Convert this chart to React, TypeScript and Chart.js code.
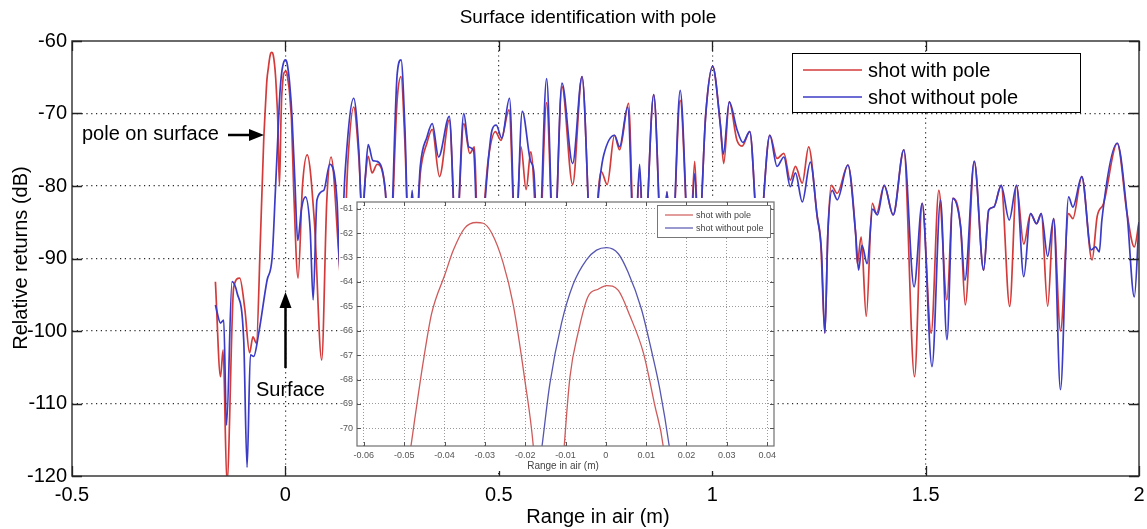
import React, { useEffect, useRef } from 'react';
import { Chart, registerables } from 'chart.js';

Chart.register(...registerables);

// ---------- data ----------
const X_TICKS = [-0.5, 0, 0.5, 1, 1.5, 2];
const Y_TICKS = [-120, -110, -100, -90, -80, -70, -60];
const INSET_X_TICKS = [-0.06, -0.05, -0.04, -0.03, -0.02, -0.01, 0, 0.01, 0.02, 0.03, 0.04];
const INSET_Y_TICKS = [-70, -69, -68, -67, -66, -65, -64, -63, -62, -61];
const SERIES_NAMES = ['shot with pole', 'shot without pole'];

// shot with pole: [range (m), relative return (dB)]
const shotWithPole: [number, number][] = [
  [-0.164, -93.2], [-0.152, -106.3], [-0.146, -102.6], [-0.137, -121], [-0.121, -93.9], [-0.107, -92.7],
  [-0.095, -97], [-0.084, -103], [-0.076, -100.8], [-0.068, -101.7], [-0.0586, -87.4], [-0.0508, -73.7],
  [-0.0483, -70.7], [-0.0453, -67.3], [-0.0432, -65.3], [-0.0399, -63.7], [-0.0378, -62.7], [-0.035, -61.8],
  [-0.0321, -61.57], [-0.0304, -61.6], [-0.0283, -62.0], [-0.0255, -63.2], [-0.023, -64.9], [-0.0201, -68],
  [-0.018, -70.7], [-0.014, -80], [-0.0103, -70.7], [-0.0089, -67.9], [-0.0069, -66.1], [-0.0044, -64.6],
  [-0.0019, -64.3], [0.0002, -64.15], [0.0031, -64.35], [0.006, -65.4], [0.0093, -66.9], [0.0122, -69.1],
  [0.0142, -70.7], [0.0195, -80.6], [0.0297, -92.7], [0.040, -80], [0.051, -75.7], [0.068, -85],
  [0.085, -104], [0.097, -82], [0.107, -76], [0.125, -89.3], [0.132, -95], [0.147, -76], [0.160, -69.1],
  [0.172, -76], [0.180, -84], [0.187, -79], [0.194, -75.9], [0.203, -78.2], [0.215, -77], [0.234, -80.6],
  [0.244, -90], [0.262, -68], [0.271, -64.9], [0.280, -74], [0.289, -88], [0.297, -82], [0.305, -88],
  [0.316, -78.3], [0.332, -74], [0.344, -72.2], [0.361, -78.7], [0.384, -70.9], [0.400, -88], [0.418, -71.4],
  [0.432, -75.5], [0.443, -74.6], [0.452, -90], [0.476, -76], [0.492, -72.5], [0.505, -73.7], [0.524, -69.5],
  [0.539, -88], [0.552, -74.6], [0.564, -80.5], [0.575, -75.3], [0.594, -90], [0.612, -68.5], [0.629, -90],
  [0.648, -66.3], [0.673, -79.8], [0.695, -64.9], [0.718, -90], [0.740, -78], [0.754, -79.8], [0.771, -73],
  [0.783, -75], [0.804, -68.6], [0.818, -90], [0.830, -78], [0.840, -90], [0.863, -67.4], [0.883, -90],
  [0.894, -80.8], [0.905, -90], [0.925, -68.2], [0.947, -90], [0.959, -76.6], [0.968, -88], [0.985, -70],
  [1.001, -63.5], [1.019, -71.5], [1.027, -76.9], [1.040, -68.4], [1.058, -73.7], [1.070, -74.5],
  [1.088, -72.5], [1.109, -88], [1.135, -73], [1.152, -76.2], [1.168, -75.5], [1.183, -79.2], [1.195, -77.3],
  [1.211, -79.6], [1.226, -74.6], [1.246, -84.2], [1.254, -87.5], [1.264, -100.3], [1.271, -86.5],
  [1.279, -79.9], [1.293, -81.0], [1.318, -77.1], [1.336, -86.5], [1.340, -90.7], [1.349, -87.0],
  [1.361, -98], [1.375, -82.4], [1.385, -83.8], [1.403, -79.9], [1.424, -84], [1.449, -75], [1.474, -106.3],
  [1.492, -82.4], [1.513, -100.3], [1.531, -80.6], [1.550, -95.7], [1.564, -81.7], [1.582, -85.6],
  [1.593, -96.4], [1.614, -76.6], [1.636, -91.6], [1.648, -83.3], [1.660, -82.9], [1.677, -79.9],
  [1.697, -96.6], [1.713, -79.9], [1.730, -88], [1.746, -83.8], [1.760, -85.2], [1.771, -83.8],
  [1.786, -96.6], [1.800, -84.5], [1.816, -100], [1.835, -83.8], [1.845, -84.5], [1.866, -78.7],
  [1.890, -90.2], [1.902, -84.2], [1.917, -82.4], [1.949, -74.1], [1.972, -83.8], [1.989, -88.4], [2.0, -85],
];

// shot without pole: [range (m), relative return (dB)]
const shotWithoutPole: [number, number][] = [
  [-0.164, -96.4], [-0.152, -98.9], [-0.1445, -98.5], [-0.138, -113], [-0.125, -93.2], [-0.113, -94.8],
  [-0.0977, -101.2], [-0.0898, -118.8], [-0.082, -103.3], [-0.0742, -103.5], [-0.0625, -100.3], [-0.043, -93],
  [-0.031, -89.8], [-0.0234, -80.6], [-0.0158, -70.7], [-0.0139, -68.2], [-0.011, -65.7], [-0.0081, -64.1],
  [-0.0048, -63.1], [-0.0023, -62.7], [0.0002, -62.6], [0.0031, -62.85], [0.0055, -63.6], [0.0088, -65.1],
  [0.0113, -66.8], [0.0134, -68.4], [0.0157, -70.7], [0.022, -79], [0.0289, -87.5], [0.038, -83],
  [0.047, -81.5], [0.058, -86], [0.065, -95.7], [0.074, -81.9], [0.090, -80.6], [0.104, -77], [0.121, -82.1],
  [0.128, -92], [0.140, -78], [0.160, -67.9], [0.172, -75], [0.180, -85], [0.187, -79], [0.194, -74.3],
  [0.205, -76.5], [0.215, -76.6], [0.234, -80.6], [0.244, -90], [0.262, -64.5], [0.271, -62.6], [0.280, -72],
  [0.289, -88], [0.297, -80.6], [0.305, -88], [0.316, -77.3], [0.332, -73.2], [0.344, -71.4], [0.359, -76],
  [0.384, -70.4], [0.400, -88], [0.418, -70], [0.4295, -74.6], [0.441, -75.1], [0.452, -90], [0.484, -72.3],
  [0.494, -71.6], [0.507, -73.4], [0.525, -67.9], [0.539, -88], [0.555, -69.7], [0.574, -76.5], [0.582, -78],
  [0.593, -90], [0.612, -65.2], [0.629, -90], [0.648, -65.8], [0.673, -76.9], [0.695, -64.9], [0.718, -90],
  [0.738, -78.5], [0.746, -75.7], [0.771, -73], [0.783, -74.6], [0.802, -69.1], [0.818, -90], [0.830, -77],
  [0.840, -90], [0.863, -67.4], [0.883, -90], [0.894, -80.8], [0.905, -90], [0.925, -66.8], [0.947, -90],
  [0.959, -78.3], [0.968, -88], [0.985, -70], [1.001, -63.5], [1.019, -71.5], [1.026, -75.6], [1.040, -68.4],
  [1.058, -72.2], [1.072, -74], [1.088, -72.5], [1.109, -88], [1.135, -73], [1.152, -77.3], [1.168, -76],
  [1.183, -80.1], [1.195, -78.2], [1.211, -82.2], [1.230, -76.7], [1.246, -84.2], [1.256, -89],
  [1.264, -100.3], [1.271, -86.5], [1.281, -80.6], [1.293, -81.9], [1.318, -77.1], [1.336, -86.5],
  [1.343, -91.6], [1.351, -88.2], [1.363, -90.7], [1.376, -83.2], [1.387, -84], [1.403, -79.9], [1.424, -84],
  [1.449, -75], [1.473, -93.9], [1.492, -82.4], [1.515, -104.9], [1.535, -81.9], [1.550, -101.2],
  [1.564, -81.7], [1.582, -85.6], [1.592, -93], [1.614, -76.6], [1.636, -91.6], [1.648, -83.3],
  [1.660, -82.9], [1.677, -79.9], [1.696, -84.7], [1.713, -79.9], [1.730, -92.5], [1.746, -83.8],
  [1.760, -85.2], [1.771, -83.8], [1.786, -89.7], [1.800, -84.5], [1.816, -108.1], [1.835, -81.5],
  [1.845, -82.9], [1.866, -78.7], [1.888, -88.8], [1.898, -88.4], [1.907, -89.1], [1.913, -84.7],
  [1.949, -74.1], [1.972, -83.8], [1.989, -95.3], [2.0, -85],
];

// ---------- styles ----------
const FONT = '"Liberation Sans", Arial, Helvetica, sans-serif';
const RED = '#d33b3b';
const BLUE = '#3b3bc6';
const INSET_RED = '#cf5a5a';
const INSET_BLUE = '#5656b0';

const toXY = (arr: [number, number][]) => arr.map(([x, y]) => ({ x, y }));

const fitX = (h: number) => (s: any) => { s.height = h; s.paddingLeft = 0; s.paddingRight = 0; };
const fitY = (w: number) => (s: any) => { s.width = w; s.paddingTop = 0; s.paddingBottom = 0; };

const mainDecor = {
  id: 'mainDecor',
  afterDraw(chart: any) {
    const { ctx, chartArea: a, scales } = chart;
    const xs = scales.x;
    const ys = scales.y;
    ctx.save();
    // axes box
    ctx.strokeStyle = '#3a3a3a';
    ctx.lineWidth = 1.5;
    ctx.strokeRect(a.left, a.top, a.right - a.left, a.bottom - a.top);
    // inward ticks
    ctx.lineWidth = 1.3;
    ctx.strokeStyle = '#222';
    ctx.beginPath();
    for (const v of X_TICKS) {
      const px = Math.round(xs.getPixelForValue(v)) + 0.5;
      ctx.moveTo(px, a.bottom); ctx.lineTo(px, a.bottom - 10);
      ctx.moveTo(px, a.top); ctx.lineTo(px, a.top + 10);
    }
    for (const v of Y_TICKS) {
      const py = Math.round(ys.getPixelForValue(v)) + 0.5;
      ctx.moveTo(a.left, py); ctx.lineTo(a.left + 10, py);
      ctx.moveTo(a.right, py); ctx.lineTo(a.right - 10, py);
    }
    ctx.stroke();

    // title and axis labels
    ctx.fillStyle = '#000';
    ctx.textAlign = 'center';
    ctx.textBaseline = 'middle';
    ctx.font = `19px ${FONT}`;
    ctx.fillText('Surface identification with pole', 588, 18);
    ctx.font = `20px ${FONT}`;
    ctx.fillText('Range in air (m)', 598, 517);
    ctx.save();
    ctx.translate(21, 258);
    ctx.rotate(-Math.PI / 2);
    ctx.fillText('Relative returns (dB)', 0, 0);
    ctx.restore();

    // legend
    ctx.fillStyle = '#fff';
    ctx.fillRect(792, 53, 288, 59);
    ctx.strokeStyle = '#000';
    ctx.lineWidth = 1;
    ctx.strokeRect(792.5, 53.5, 288, 59);
    const rows = [
      { name: SERIES_NAMES[0], color: RED, y: 70 },
      { name: SERIES_NAMES[1], color: BLUE, y: 97 },
    ];
    ctx.font = `20px ${FONT}`;
    ctx.textAlign = 'left';
    for (const r of rows) {
      ctx.strokeStyle = r.color;
      ctx.lineWidth = 1.5;
      ctx.beginPath();
      ctx.moveTo(803, r.y); ctx.lineTo(862, r.y);
      ctx.stroke();
      ctx.fillStyle = '#000';
      ctx.fillText(r.name, 868, r.y + 1);
    }

    // annotations
    ctx.fillStyle = '#000';
    ctx.font = `20px ${FONT}`;
    ctx.textAlign = 'left';
    ctx.fillText('pole on surface', 82, 134);
    ctx.fillText('Surface', 256, 390);
    ctx.strokeStyle = '#000';
    ctx.lineWidth = 2.5;
    ctx.beginPath();
    ctx.moveTo(228, 135); ctx.lineTo(252, 135);
    ctx.moveTo(285.5, 368); ctx.lineTo(285.5, 304);
    ctx.stroke();
    ctx.beginPath();
    ctx.moveTo(264, 135); ctx.lineTo(249, 129); ctx.lineTo(249, 141); ctx.closePath();
    ctx.fill();
    ctx.beginPath();
    ctx.moveTo(285.5, 292); ctx.lineTo(279.5, 308); ctx.lineTo(291.5, 308); ctx.closePath();
    ctx.fill();
    ctx.restore();
  },
};

const insetDecor = {
  id: 'insetDecor',
  afterDraw(chart: any) {
    const { ctx, chartArea: a, scales } = chart;
    const xs = scales.x;
    const ys = scales.y;
    ctx.save();
    ctx.strokeStyle = '#707070';
    ctx.lineWidth = 1.2;
    ctx.strokeRect(a.left, a.top, a.right - a.left, a.bottom - a.top);
    ctx.lineWidth = 1;
    ctx.strokeStyle = '#555';
    ctx.beginPath();
    for (const v of INSET_X_TICKS) {
      const px = Math.round(xs.getPixelForValue(v)) + 0.5;
      ctx.moveTo(px, a.bottom); ctx.lineTo(px, a.bottom - 4);
      ctx.moveTo(px, a.top); ctx.lineTo(px, a.top + 4);
    }
    for (const v of INSET_Y_TICKS) {
      const py = Math.round(ys.getPixelForValue(v)) + 0.5;
      ctx.moveTo(a.left, py); ctx.lineTo(a.left + 4, py);
      ctx.moveTo(a.right, py); ctx.lineTo(a.right - 4, py);
    }
    ctx.stroke();

    // x label
    ctx.fillStyle = '#444';
    ctx.font = `10px ${FONT}`;
    ctx.textAlign = 'center';
    ctx.textBaseline = 'middle';
    ctx.fillText('Range in air (m)', 224, 268);

    // legend
    const lx = 318, ly = 7, lw = 113, lh = 32;
    ctx.fillStyle = '#fff';
    ctx.fillRect(lx, ly, lw, lh);
    ctx.strokeStyle = '#777';
    ctx.lineWidth = 1;
    ctx.strokeRect(lx + 0.5, ly + 0.5, lw, lh);
    const rows = [
      { name: SERIES_NAMES[0], color: INSET_RED, y: 17 },
      { name: SERIES_NAMES[1], color: INSET_BLUE, y: 30 },
    ];
    ctx.font = `9px ${FONT}`;
    ctx.textAlign = 'left';
    for (const r of rows) {
      ctx.strokeStyle = r.color;
      ctx.lineWidth = 1.2;
      ctx.beginPath();
      ctx.moveTo(326, r.y); ctx.lineTo(354, r.y);
      ctx.stroke();
      ctx.fillStyle = '#444';
      ctx.fillText(r.name, 357, r.y + 0.5);
    }
    ctx.restore();
  },
};

export default function App() {
  const mainRef = useRef<HTMLCanvasElement>(null);
  const insetRef = useRef<HTMLCanvasElement>(null);

  useEffect(() => {
    const edgeX = (v: number) => v === -0.5 || v === 2;
    const edgeY = (v: number) => v === -120 || v === -60;
    const main = new Chart(mainRef.current as HTMLCanvasElement, {
      type: 'line',
      data: {
        datasets: [
          {
            label: SERIES_NAMES[0],
            data: toXY(shotWithPole),
            borderColor: RED,
            borderWidth: 1.7,
            pointRadius: 0,
            cubicInterpolationMode: 'monotone',
            order: 1,
          },
          {
            label: SERIES_NAMES[1],
            data: toXY(shotWithoutPole),
            borderColor: BLUE,
            borderWidth: 1.7,
            pointRadius: 0,
            cubicInterpolationMode: 'monotone',
            order: 0,
          },
        ],
      },
      options: {
        responsive: false,
        animation: false,
        events: [],
        layout: { padding: { top: 41, right: 8, left: 0, bottom: 0 } },
        plugins: { legend: { display: false }, tooltip: { enabled: false }, title: { display: false } },
        scales: {
          x: {
            type: 'linear',
            min: -0.5,
            max: 2,
            afterFit: fitX(53),
            ticks: {
              stepSize: 0.5,
              autoSkip: false,
              maxRotation: 0,
              padding: 7,
              color: '#000',
              font: { family: FONT, size: 20 },
              callback: (v: any) => String(Math.round(Number(v) * 10) / 10),
            },
            grid: {
              drawTicks: false,
              lineWidth: 1.2,
              color: (c: any) => (c.tick && edgeX(c.tick.value) ? 'rgba(0,0,0,0)' : '#2a2a2a'),
            },
            border: { display: false, dash: [1.2, 3.6] },
          },
          y: {
            type: 'linear',
            min: -120,
            max: -60,
            afterFit: fitY(72),
            ticks: {
              stepSize: 10,
              autoSkip: false,
              padding: 5,
              color: '#000',
              font: { family: FONT, size: 20 },
              callback: (v: any) => String(v),
            },
            grid: {
              drawTicks: false,
              lineWidth: 1.2,
              color: (c: any) => (c.tick && edgeY(c.tick.value) ? 'rgba(0,0,0,0)' : '#2a2a2a'),
            },
            border: { display: false, dash: [1.2, 3.6] },
          },
        },
      },
      plugins: [mainDecor],
    } as any);

    const inset = new Chart(insetRef.current as HTMLCanvasElement, {
      type: 'line',
      data: {
        datasets: [
          {
            label: SERIES_NAMES[0],
            data: toXY(shotWithPole),
            borderColor: INSET_RED,
            borderWidth: 1.3,
            pointRadius: 0,
            cubicInterpolationMode: 'monotone',
            order: 1,
          },
          {
            label: SERIES_NAMES[1],
            data: toXY(shotWithoutPole),
            borderColor: INSET_BLUE,
            borderWidth: 1.3,
            pointRadius: 0,
            cubicInterpolationMode: 'monotone',
            order: 0,
          },
        ],
      },
      options: {
        responsive: false,
        animation: false,
        events: [],
        layout: { padding: { top: 4, right: 2, left: 0, bottom: 0 } },
        plugins: { legend: { display: false }, tooltip: { enabled: false }, title: { display: false } },
        scales: {
          x: {
            type: 'linear',
            min: -0.0617,
            max: 0.0417,
            afterFit: fitX(25),
            ticks: {
              stepSize: 0.01,
              includeBounds: false,
              autoSkip: false,
              maxRotation: 0,
              padding: 4,
              color: '#555',
              font: { family: FONT, size: 9 },
              callback: (v: any) => {
                const n = Math.round(Number(v) * 100) / 100;
                return n === 0 ? '0' : n.toFixed(2);
              },
            },
            grid: { drawTicks: false, lineWidth: 1, color: '#9a9a9a' },
            border: { display: false, dash: [1, 2] },
          },
          y: {
            type: 'linear',
            min: -70.72,
            max: -60.73,
            afterFit: fitY(18),
            ticks: {
              stepSize: 1,
              includeBounds: false,
              autoSkip: false,
              padding: 4,
              color: '#555',
              font: { family: FONT, size: 9 },
              callback: (v: any) => String(Math.round(Number(v))),
            },
            grid: { drawTicks: false, lineWidth: 1, color: '#9a9a9a' },
            border: { display: false, dash: [1, 2] },
          },
        },
      },
      plugins: [insetDecor],
    } as any);

    return () => {
      main.destroy();
      inset.destroy();
    };
  }, []);

  return (
    <div style={{ position: 'absolute', left: 0, top: 0, width: 1147, height: 529, background: '#fff' }}>
      <canvas
        ref={mainRef}
        width={1147}
        height={529}
        style={{ position: 'absolute', left: 0, top: 0, width: 1147, height: 529 }}
      />
      <div style={{ position: 'absolute', left: 339, top: 198, width: 437, height: 273, background: '#fff' }}>
        <canvas ref={insetRef} width={437} height={273} style={{ width: 437, height: 273, display: 'block' }} />
      </div>
    </div>
  );
}
